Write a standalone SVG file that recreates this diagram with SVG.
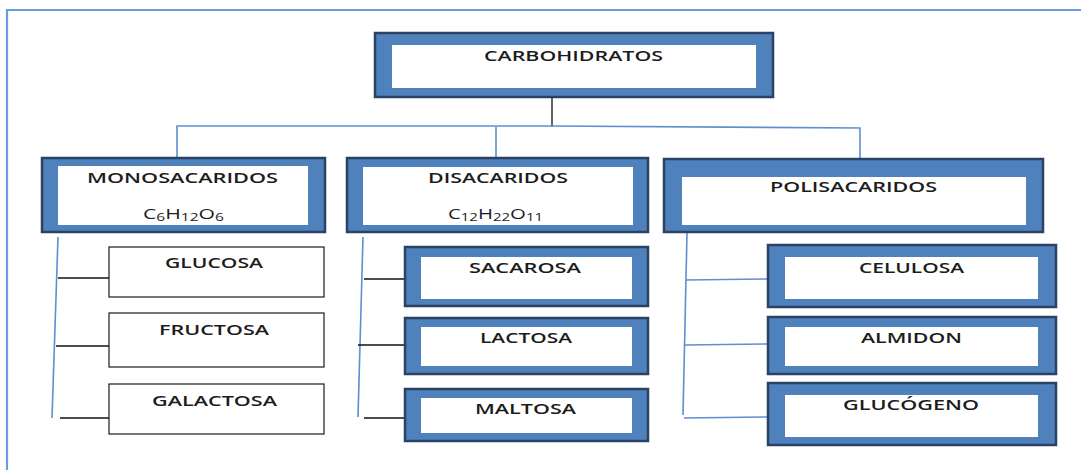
<svg xmlns="http://www.w3.org/2000/svg" width="1081" height="470" viewBox="0 0 1081 470">
  <style>
    .frame { fill: #4f81bd; stroke: #2a4263; stroke-width: 2.5; }
    .inner { fill: #ffffff; stroke: none; }
    .plain { fill: #ffffff; stroke: #1a1a1a; stroke-width: 1.2; }
    .lbl { font-family: "Open Sans", "Liberation Sans", sans-serif; font-size: 14px; font-weight: 600; fill: #1c1c1c; }
    .formula { font-size: 15px; font-weight: 500; }
    .sub { font-size: 11px; }
    .blue { stroke: #5f8fcf; stroke-width: 1.6; fill: none; }
    .black { stroke: #111111; stroke-width: 1.3; fill: none; }
    .page { stroke: #6b9ce0; stroke-width: 2.2; fill: none; }
  </style>

  <rect x="0" y="0" width="1081" height="470" fill="#ffffff"/>
  <!-- page edge -->
  <path class="page" d="M7,470 V10 H1081"/>

  <!-- connectors -->
  <g id="connectors">
    <line class="black" x1="552" y1="97" x2="552" y2="127"/>
    <path class="blue" d="M177,160 V126 H552 L860,128 V160"/>
    <line class="blue" x1="496" y1="127" x2="496" y2="160"/>

    <!-- monosacaridos branch -->
    <line class="blue" x1="58" y1="237" x2="52" y2="418"/>
    <line class="black" x1="58" y1="278" x2="109" y2="278"/>
    <line class="black" x1="56" y1="346" x2="109" y2="346"/>
    <line class="black" x1="60" y1="418" x2="109" y2="418"/>

    <!-- disacaridos branch -->
    <line class="blue" x1="363" y1="237" x2="358" y2="417"/>
    <line class="black" x1="364" y1="279" x2="406" y2="279"/>
    <line class="black" x1="358" y1="345" x2="406" y2="345"/>
    <line class="black" x1="364" y1="418" x2="413" y2="418"/>

    <!-- polisacaridos branch -->
    <line class="blue" x1="687" y1="233" x2="683" y2="415"/>
    <line class="blue" x1="686" y1="280" x2="767" y2="279"/>
    <line class="blue" x1="685" y1="345" x2="767" y2="344"/>
    <line class="blue" x1="684" y1="418" x2="767" y2="417"/>
  </g>

  <g id="carbohidratos">
    <rect class="frame" x="375" y="33" width="398" height="64"/>
    <rect class="inner" x="392" y="45" width="364" height="43"/>
    <text class="lbl" x="484" y="61" textLength="179" lengthAdjust="spacingAndGlyphs">CARBOHIDRATOS</text>
  </g>

  <g id="monosacaridos">
    <rect class="frame" x="42" y="158" width="283" height="74"/>
    <rect class="inner" x="58" y="166" width="250" height="59"/>
    <text class="lbl" x="87" y="183" textLength="191" lengthAdjust="spacingAndGlyphs">MONOSACARIDOS</text>
    <text class="lbl formula" x="143" y="219" textLength="81" lengthAdjust="spacingAndGlyphs">C<tspan class="sub" dy="2">6</tspan><tspan dy="-2">H</tspan><tspan class="sub" dy="2">12</tspan><tspan dy="-2">O</tspan><tspan class="sub" dy="2">6</tspan></text>
  </g>

  <g id="disacaridos">
    <rect class="frame" x="347" y="158" width="301" height="74"/>
    <rect class="inner" x="363" y="167" width="270" height="58"/>
    <text class="lbl" x="428" y="183" textLength="140" lengthAdjust="spacingAndGlyphs">DISACARIDOS</text>
    <text class="lbl formula" x="448" y="219" textLength="95" lengthAdjust="spacingAndGlyphs">C<tspan class="sub" dy="2">12</tspan><tspan dy="-2">H</tspan><tspan class="sub" dy="2">22</tspan><tspan dy="-2">O</tspan><tspan class="sub" dy="2">11</tspan></text>
  </g>

  <g id="polisacaridos">
    <rect class="frame" x="664" y="159" width="379" height="73"/>
    <rect class="inner" x="682" y="177" width="344" height="48"/>
    <text class="lbl" x="770" y="192" textLength="167" lengthAdjust="spacingAndGlyphs">POLISACARIDOS</text>
  </g>

  <g id="glucosa">
    <rect class="plain" x="109" y="247" width="215" height="50"/>
    <text class="lbl" x="165" y="268" textLength="98" lengthAdjust="spacingAndGlyphs">GLUCOSA</text>
  </g>
  <g id="fructosa">
    <rect class="plain" x="109" y="313" width="215" height="54"/>
    <text class="lbl" x="159" y="335" textLength="110" lengthAdjust="spacingAndGlyphs">FRUCTOSA</text>
  </g>
  <g id="galactosa">
    <rect class="plain" x="109" y="384" width="215" height="50"/>
    <text class="lbl" x="152" y="406" textLength="125" lengthAdjust="spacingAndGlyphs">GALACTOSA</text>
  </g>

  <g id="sacarosa">
    <rect class="frame" x="405" y="247" width="243" height="59"/>
    <rect class="inner" x="421" y="257" width="211" height="42"/>
    <text class="lbl" x="469" y="273" textLength="112" lengthAdjust="spacingAndGlyphs">SACAROSA</text>
  </g>
  <g id="lactosa">
    <rect class="frame" x="405" y="318" width="243" height="56"/>
    <rect class="inner" x="421" y="327" width="211" height="39"/>
    <text class="lbl" x="480" y="343" textLength="92" lengthAdjust="spacingAndGlyphs">LACTOSA</text>
  </g>
  <g id="maltosa">
    <rect class="frame" x="405" y="389" width="243" height="52"/>
    <rect class="inner" x="421" y="398" width="211" height="35"/>
    <text class="lbl" x="475" y="414" textLength="101" lengthAdjust="spacingAndGlyphs">MALTOSA</text>
  </g>

  <g id="celulosa">
    <rect class="frame" x="768" y="245" width="288" height="62"/>
    <rect class="inner" x="785" y="257" width="253" height="42"/>
    <text class="lbl" x="859" y="273" textLength="105" lengthAdjust="spacingAndGlyphs">CELULOSA</text>
  </g>
  <g id="almidon">
    <rect class="frame" x="768" y="317" width="288" height="57"/>
    <rect class="inner" x="785" y="327" width="253" height="39"/>
    <text class="lbl" x="861" y="343" textLength="101" lengthAdjust="spacingAndGlyphs">ALMIDON</text>
  </g>
  <g id="glucogeno">
    <rect class="frame" x="768" y="383" width="288" height="62"/>
    <rect class="inner" x="785" y="395" width="253" height="42"/>
    <text class="lbl" x="843" y="410" textLength="136" lengthAdjust="spacingAndGlyphs">GLUCÓGENO</text>
  </g>
</svg>
